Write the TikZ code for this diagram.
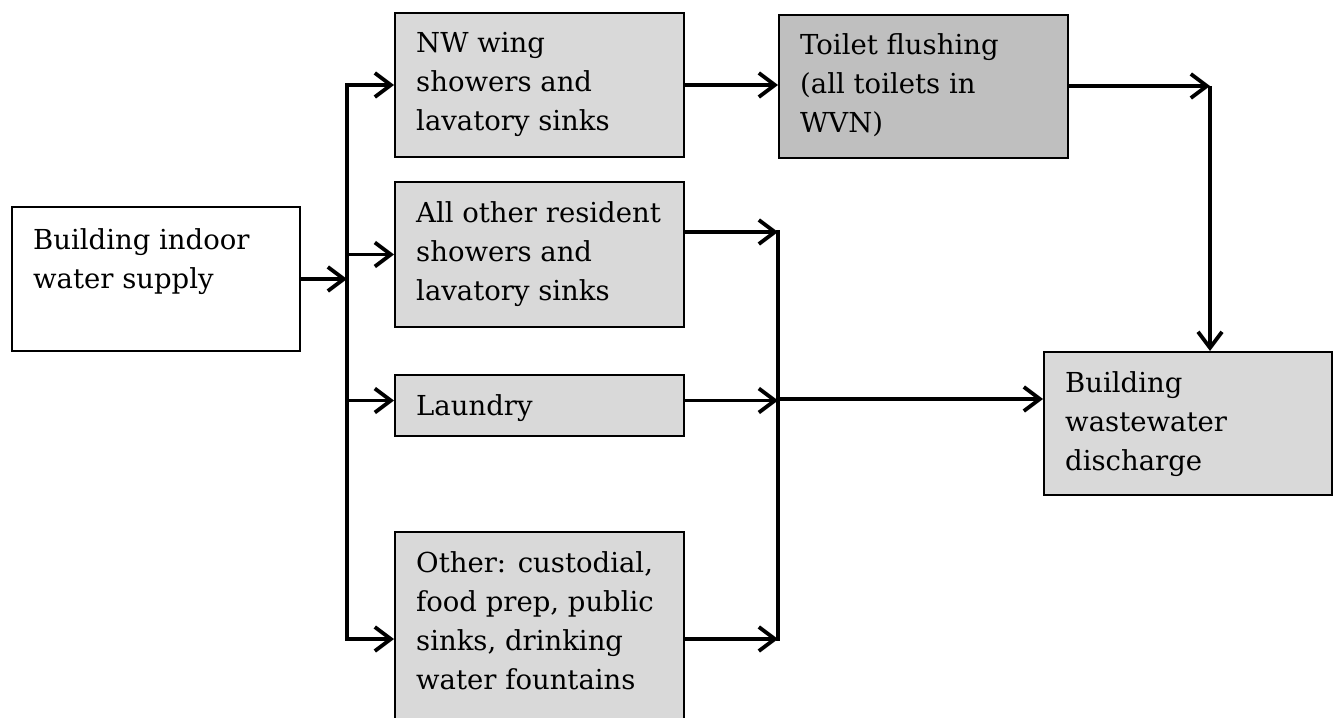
\documentclass[tikz,border=0pt]{standalone}
\usepackage{fontspec}
\setmainfont{DejaVu Serif}
\usetikzlibrary{arrows.meta,calc}
\definecolor{boxgray}{HTML}{D9D9D9}
\definecolor{darkgray}{HTML}{BFBFBF}
\tikzset{
  box/.style={draw=black, line width=2pt, anchor=north west, inner sep=0pt},
  lbl/.style={anchor=north west, inner sep=0pt, align=left,
    font=\fontsize{27.5}{39}\selectfont},
  plain/.style={line width=3.8pt, line cap=rect},
  conn/.style={line width=3.8pt, -{Straight Barb[length=16pt,width=24pt,line width=3.8pt]}},
}
\begin{document}
\begin{tikzpicture}[x=1pt,y=-1pt]
\useasboundingbox[fill=white] (0,0) rectangle (1335,717);
% boxes
\node[box, fill=white, minimum width=288pt, minimum height=144pt] (sup) at (11,206) {};
\node[box, fill=boxgray, minimum width=289pt, minimum height=144pt] (nw) at (394,12) {};
\node[box, fill=darkgray, minimum width=289pt, minimum height=143pt] (toi) at (778,14) {};
\node[box, fill=boxgray, minimum width=289pt, minimum height=145pt] (allo) at (394,181) {};
\node[box, fill=boxgray, minimum width=289pt, minimum height=61pt] (lau) at (394,374) {};
\node[box, fill=boxgray, minimum width=289pt, minimum height=214pt] (oth) at (394,531) {};
\node[box, fill=boxgray, minimum width=288pt, minimum height=143pt] (ww) at (1043,351) {};
% labels
\node[lbl] (tsup) at ([xshift=22pt,yshift=-22pt]sup.north west) {Building indoor\\water supply};
\node[lbl] (tnw) at ([xshift=22pt,yshift=-20pt]nw.north west) {NW wing\\showers and\\lavatory sinks};
\node[lbl] (ttoi) at ([xshift=22pt,yshift=-19pt]toi.north west) {Toilet flushing\\(all toilets in\\WVN)};
\node[lbl] (tallo) at ([xshift=22pt,yshift=-20pt]allo.north west) {All other resident\\showers and\\lavatory sinks};
\node[lbl] (tlau) at ([xshift=22pt,yshift=-20pt]lau.north west) {Laundry};
\node[lbl] (toth) at ([xshift=22pt,yshift=-20pt]oth.north west) {Other: custodial,\\food prep, public\\sinks, drinking\\water fountains};
\node[lbl] (tww) at ([xshift=22pt,yshift=-20pt]ww.north west) {Building\\wastewater\\discharge};
% bus coordinates
\coordinate (lbus) at (347,278);
\coordinate (rbus) at (778,399);
\coordinate (tc) at (1210,86);
% left distribution
\draw[conn] (sup.east) -- (sup.east -| lbus);
\draw[plain] (nw.west -| lbus) -- (oth.west -| lbus);
\draw[conn] (nw.west -| lbus) -- (nw.west);
\draw[conn] (allo.west -| lbus) -- (allo.west);
\draw[conn] ([yshift=5pt]lau.west -| lbus) -- ([yshift=5pt]lau.west);
\draw[conn] (oth.west -| lbus) -- (oth.west);
% right collection
\draw[plain] ([yshift=22.5pt]allo.east -| rbus) -- (oth.east -| rbus);
\draw[conn] ([yshift=22.5pt]allo.east) -- ([yshift=22.5pt]allo.east -| rbus);
\draw[conn] ([yshift=5pt]lau.east) -- ([yshift=5pt]lau.east -| rbus);
\draw[conn] (oth.east) -- (oth.east -| rbus);
\draw[conn] (rbus) -- (rbus -| ww.west);
% toilet path
\draw[conn] (nw.east) -- (nw.east -| toi.west);
\draw[conn] (toi.east |- tc) -- (tc);
\draw[conn] (tc) -- (tc |- ww.north);
\end{tikzpicture}
\end{document}
